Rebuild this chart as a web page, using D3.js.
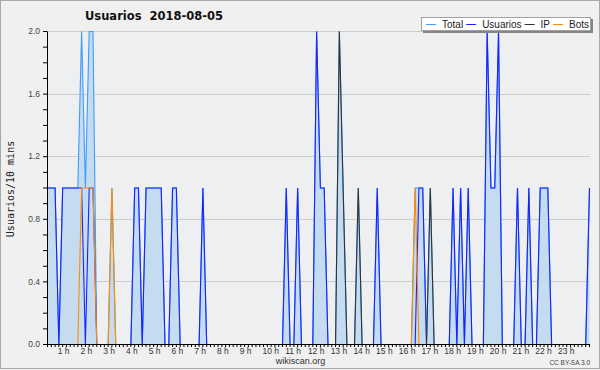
<!DOCTYPE html>
<html>
<head>
<meta charset="utf-8">
<script src="https://cdn.jsdelivr.net/npm/d3@7"></script>
<style>
body { margin: 0; background: #f0f0f0; }
svg { display: block; }
</style>
</head>
<body>
<script>

// hour labels shown under the x axis (one every 6 slots of 10 minutes)
var hourLabels = ['1 h', '2 h', '3 h', '4 h', '5 h', '6 h', '7 h', '8 h', '9 h', '10 h', '11 h', '12 h',
	'13 h', '14 h', '15 h', '16 h', '17 h', '18 h', '19 h', '20 h', '21 h', '22 h', '23 h'];

// labelled values on the y axis
var yLabels = [0, 0.4, 0.8, 1.2, 1.6, 2.0];

// legend entries
var seriesNames = ['Total', 'Usuarios', 'IP', 'Bots'];
var seriesColors = ['#3d9cff', '#1a22ff', '#333333', '#ff8c00'];

// users per 10 minute slot, 144 slots for the day
var total = [
	1, 1, 1, 0, 1, 1, 1, 1, 1, 2,
	1, 2, 2, 0, 0, 0, 0, 1, 0, 0,
	0, 0, 0, 1, 1, 0, 1, 1, 1, 1,
	1, 0, 0, 1, 1, 0, 0, 0, 0, 0,
	0, 1, 0, 0, 0, 0, 0, 0, 0, 0,
	0, 0, 0, 0, 0, 0, 0, 0, 0, 0,
	0, 0, 0, 1, 0, 0, 1, 0, 0, 0,
	0, 2, 1, 1, 0, 0, 0, 2, 1, 0,
	0, 0, 1, 0, 0, 0, 0, 1, 0, 0,
	0, 0, 0, 0, 0, 0, 0, 1, 1, 1,
	0, 1, 0, 0, 0, 0, 0, 1, 0, 1,
	0, 1, 0, 0, 0, 0, 2, 1, 1, 2,
	0, 0, 0, 0, 1, 0, 0, 1, 0, 0,
	1, 1, 1, 0, 0, 0, 0, 0, 0, 0,
	0, 0, 0, 1];

var usuarios = [
	1, 1, 1, 0, 1, 1, 1, 1, 1, 1,
	0, 1, 1, 0, 0, 0, 0, 0, 0, 0,
	0, 0, 0, 1, 1, 0, 1, 1, 1, 1,
	1, 0, 0, 1, 1, 0, 0, 0, 0, 0,
	0, 1, 0, 0, 0, 0, 0, 0, 0, 0,
	0, 0, 0, 0, 0, 0, 0, 0, 0, 0,
	0, 0, 0, 1, 0, 0, 1, 0, 0, 0,
	0, 2, 1, 1, 0, 0, 0, 0, 0, 0,
	0, 0, 0, 0, 0, 0, 0, 1, 0, 0,
	0, 0, 0, 0, 0, 0, 0, 0, 1, 1,
	0, 0, 0, 0, 0, 0, 0, 1, 0, 1,
	0, 1, 0, 0, 0, 0, 2, 1, 1, 2,
	0, 0, 0, 0, 1, 0, 0, 1, 0, 0,
	1, 1, 1, 0, 0, 0, 0, 0, 0, 0,
	0, 0, 0, 1];

var ip = [
	0, 0, 0, 0, 0, 0, 0, 0, 0, 0,
	0, 0, 0, 0, 0, 0, 0, 0, 0, 0,
	0, 0, 0, 0, 0, 0, 0, 0, 0, 0,
	0, 0, 0, 0, 0, 0, 0, 0, 0, 0,
	0, 0, 0, 0, 0, 0, 0, 0, 0, 0,
	0, 0, 0, 0, 0, 0, 0, 0, 0, 0,
	0, 0, 0, 0, 0, 0, 0, 0, 0, 0,
	0, 0, 0, 0, 0, 0, 0, 2, 1, 0,
	0, 0, 1, 0, 0, 0, 0, 0, 0, 0,
	0, 0, 0, 0, 0, 0, 0, 0, 0, 0,
	0, 1, 0, 0, 0, 0, 0, 0, 0, 0,
	0, 0, 0, 0, 0, 0, 0, 0, 0, 0,
	0, 0, 0, 0, 0, 0, 0, 0, 0, 0,
	0, 0, 0, 0, 0, 0, 0, 0, 0, 0,
	0, 0, 0, 0];

var bots = [
	0, 0, 0, 0, 0, 0, 0, 0, 0, 1,
	1, 1, 1, 0, 0, 0, 0, 1, 0, 0,
	0, 0, 0, 0, 0, 0, 0, 0, 0, 0,
	0, 0, 0, 0, 0, 0, 0, 0, 0, 0,
	0, 0, 0, 0, 0, 0, 0, 0, 0, 0,
	0, 0, 0, 0, 0, 0, 0, 0, 0, 0,
	0, 0, 0, 0, 0, 0, 0, 0, 0, 0,
	0, 0, 0, 0, 0, 0, 0, 0, 0, 0,
	0, 0, 0, 0, 0, 0, 0, 0, 0, 0,
	0, 0, 0, 0, 0, 0, 0, 1, 0, 0,
	0, 0, 0, 0, 0, 0, 0, 0, 0, 0,
	0, 0, 0, 0, 0, 0, 0, 0, 0, 0,
	0, 0, 0, 0, 0, 0, 0, 0, 0, 0,
	0, 0, 0, 0, 0, 0, 0, 0, 0, 0,
	0, 0, 0, 0];

var series = [total, usuarios, ip, bots];

var width = 600,
		height = 370;

// plot box (names avoid window.top and friends)
var plotLeft = 47, plotRight = 590, plotTop = 31, plotBottom = 344;

var x = d3.scaleLinear()
	.domain([0, total.length - 1])
	.range([plotLeft, plotRight - 1]);

var y = d3.scaleLinear()
	.domain([0, 2])
	.range([plotBottom, plotTop]);

var svg = d3.select('body')
	.append('svg')
	.attr('width', width)
	.attr('height', height);

// outer frame
svg.append('rect')
	.attr('x', 0.5).attr('y', 0.5)
	.attr('width', width - 1).attr('height', height - 2)
	.attr('fill', '#f0f0f0')
	.attr('stroke', '#a8a8a8');

// plot background
svg.append('rect')
	.attr('x', plotLeft).attr('y', plotTop)
	.attr('width', plotRight - plotLeft).attr('height', plotBottom - plotTop)
	.attr('fill', '#edeff1');

// horizontal grid lines at the labelled values
svg.append('g')
	.selectAll('line')
	.data(yLabels.filter(function(d) { return d > 0; }))
	.enter().append('line')
	.attr('x1', plotLeft).attr('x2', plotRight)
	.attr('y1', function(d) { return Math.round(y(d)) + 0.5; })
	.attr('y2', function(d) { return Math.round(y(d)) + 0.5; })
	.attr('stroke', '#cccccc');

// light blue area under the total
var area = d3.area()
	.x(function(d, i) { return x(i) + 0.5; })
	.y0(y(0))
	.y1(function(d) { return y(d) + 0.5; });

svg.append('path')
	.datum(total)
	.attr('d', area)
	.attr('fill', '#c5dcf0');

var line = d3.line()
	.x(function(d, i) { return x(i) + 0.5; })
	.y(function(d) { return y(d) + 0.5; });

// one line per series, bots drawn last
svg.append('g')
	.selectAll('path')
	.data(series)
	.enter().append('path')
	.attr('d', line)
	.attr('fill', 'none')
	.attr('stroke', function(d, i) { return seriesColors[i]; })
	.attr('stroke-width', 1.1);

// y axis, minor tick every 0.1
var yAxis = d3.axisLeft(y)
	.tickValues(d3.range(0, 21).map(function(d) { return d / 10; }))
	.tickSize(4)
	.tickSizeOuter(0)
	.tickFormat(function(d) {
		return yLabels.indexOf(d) >= 0 ? d3.format('.1f')(d) : '';
	});

var gy = svg.append('g')
	.attr('transform', 'translate(' + plotLeft + ',0)')
	.call(yAxis);

gy.selectAll('text')
	.attr('font-family', '"Liberation Sans", Arial, sans-serif')
	.attr('font-size', 8.5)
	.attr('fill', '#444')
	.attr('x', -7);

// x axis, a tick every 10 minutes
var xAxis = d3.axisBottom(x)
	.tickValues(d3.range(total.length))
	.tickSize(3)
	.tickSizeOuter(0)
	.tickFormat('');

var gx = svg.append('g')
	.attr('transform', 'translate(0,' + plotBottom + ')')
	.call(xAxis);

gx.selectAll('.domain').attr('d', 'M' + (plotLeft + 0.5) + ',0.5H' + plotRight);

// hour labels
svg.append('g')
	.selectAll('text')
	.data(hourLabels)
	.enter().append('text')
	.attr('x', function(d, i) { return x((i + 1) * 6) - 12; })
	.attr('y', plotBottom + 9.5)
	.attr('font-family', '"Liberation Sans", Arial, sans-serif')
	.attr('font-size', 8.5)
	.attr('fill', '#333')
	.text(function(d) { return d; });

// y axis title
svg.append('text')
	.attr('transform', 'translate(14,189) rotate(-90)')
	.attr('text-anchor', 'middle')
	.attr('font-family', '"DejaVu Sans Mono", monospace')
	.attr('font-size', 10)
	.attr('fill', '#222')
	.text('Usuarios/10 mins');

// chart title
svg.append('text')
	.attr('x', 85)
	.attr('y', 20)
	.attr('font-family', '"DejaVu Sans", sans-serif')
	.attr('font-weight', 'bold')
	.attr('font-size', 11.5)
	.attr('fill', '#111')
	.style('white-space', 'pre')
	.text('Usuarios  2018-08-05');

// legend box with its shadow
svg.append('rect')
	.attr('x', 423).attr('y', 19)
	.attr('width', 170).attr('height', 14)
	.attr('fill', '#858585');

svg.append('rect')
	.attr('x', 421.5).attr('y', 17.5)
	.attr('width', 169).attr('height', 13)
	.attr('fill', '#ffffff')
	.attr('stroke', '#a0a0a0');

var lx = 426;
seriesNames.forEach(function(name, i) {
	svg.append('line')
		.attr('x1', lx).attr('x2', lx + 10)
		.attr('y1', 24.5).attr('y2', 24.5)
		.attr('stroke', seriesColors[i]);
	var t = svg.append('text')
		.attr('x', lx + 16)
		.attr('y', 28)
		.attr('font-family', '"Liberation Sans", Arial, sans-serif')
		.attr('font-size', 10)
		.attr('fill', '#222')
		.text(name);
	lx = lx + 16 + t.node().getComputedTextLength() + 3;
});

// footer texts
svg.append('text')
	.attr('x', 300.5)
	.attr('y', 363.5)
	.attr('text-anchor', 'middle')
	.attr('font-family', '"Liberation Sans", Arial, sans-serif')
	.attr('font-size', 9)
	.attr('fill', '#333')
	.text('wikiscan.org');

svg.append('text')
	.attr('x', 590)
	.attr('y', 364.5)
	.attr('text-anchor', 'end')
	.attr('font-family', '"Liberation Sans", Arial, sans-serif')
	.attr('font-size', 6.5)
	.attr('fill', '#444')
	.text('CC BY-SA 3.0');

</script>
</body>
</html>
